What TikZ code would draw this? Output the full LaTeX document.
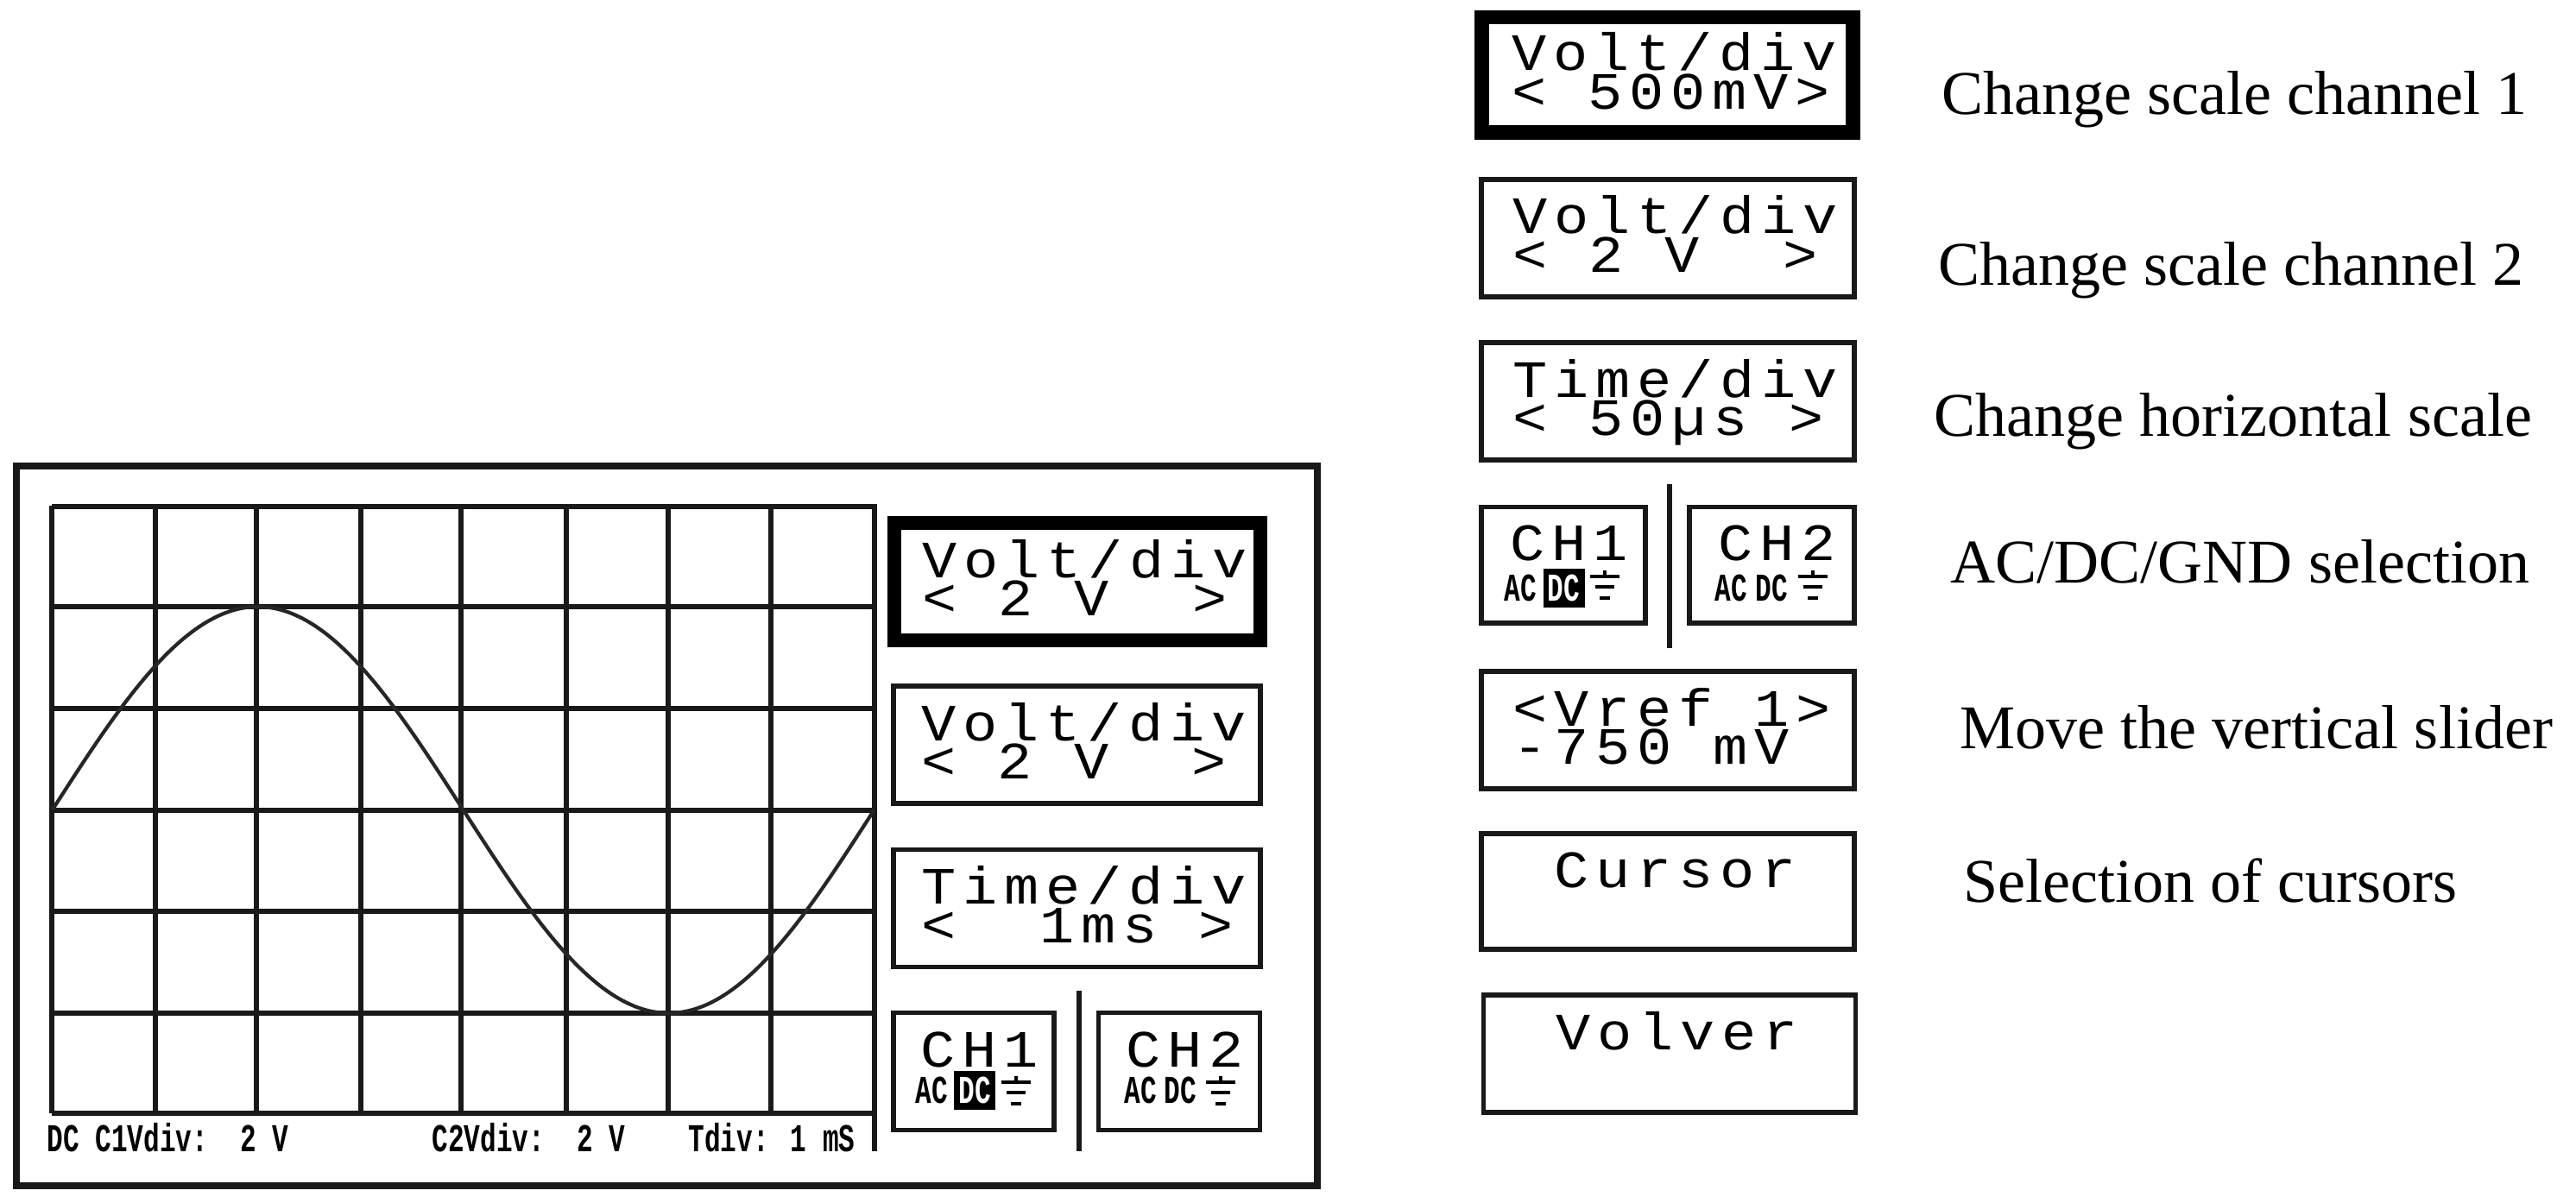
\documentclass[tikz,border=0pt]{standalone}
\usepackage{fontspec}
\setmainfont{Liberation Serif}
\newfontfamily\lcdfont[LetterSpace=13,FakeStretch=1.1]{Liberation Mono}
\newfontfamily\lcdsmall[FakeStretch=0.68]{Liberation Mono}
\newcommand{\lcdgap}{\hspace*{0.482cm}}
\usetikzlibrary{positioning}
\tikzset{
	panelline/.style={line width=1.5pt, color=black!90},
	softkey/.style={draw=black!90, rectangle, line width=1.5pt, minimum height=1.36cm, inner sep=0pt,
	text width=3.6cm, text height=0.5cm, text depth=0.6cm, align=left, font=\lcdfont\fontsize{17.3}{12.8}\selectfont},
	softkeyon/.style={softkey, draw=black, line width=4.8pt},
	chkey/.style={softkey, text width=1.24cm},
	lcdsmalltext/.style={inner sep=0pt, anchor=west, font=\lcdsmall\bfseries\fontsize{13}{13}\selectfont},
	dcmark/.style={fill=black, text=white, inner sep=0pt, minimum width=0.48cm, minimum height=0.45cm,
	font=\lcdsmall\bfseries\fontsize{13}{13}\selectfont},
	helptext/.style={anchor=west, inner sep=0pt, font=\fontsize{20.5}{24}\selectfont},
	gndsym/.pic={
		\draw[line width=0.9pt] (-0.17,0) -- (0.17,0);
		\draw[line width=0.9pt] (-0.11,-0.12) -- (0.11,-0.12);
		\draw[line width=0.9pt] (-0.06,-0.25) -- (0.06,-0.25);
		\draw[line width=0.9pt] (0,0) -- (0,0.07);
	}
}
\begin{document}
\begin{tikzpicture}
		\useasboundingbox (0,0) rectangle (29.84,13.93);
		
		%Oscilloscope screen
		\node (Screen) at (7.725,4.36) [draw=black!90, rectangle, line width=2.3pt, minimum height=8.345cm,
		minimum width=15.07cm]{};
		
		%Grid of the screen
		\draw[panelline] (0.60,8.07) -- (0.60,1.03);
		\draw[panelline] (1.80,8.07) -- (1.80,1.03);
		\draw[panelline] (2.97,8.07) -- (2.97,1.03);
		\draw[panelline] (4.18,8.07) -- (4.18,1.03);
		\draw[panelline] (5.34,8.07) -- (5.34,1.03);
		\draw[panelline] (6.56,8.07) -- (6.56,1.03);
		\draw[panelline, line width=1.9pt] (7.74,8.07) -- (7.74,1.03);
		\draw[panelline] (8.93,8.07) -- (8.93,1.03);
		\draw[panelline] (10.13,8.09) -- (10.13,0.59);
		\draw[panelline] (0.60,8.06) -- (10.13,8.06);
		\draw[panelline] (0.60,6.90) -- (10.13,6.90);
		\draw[panelline] (0.60,5.72) -- (10.13,5.72);
		\draw[panelline] (0.60,4.54) -- (10.13,4.54);
		\draw[panelline] (0.60,3.37) -- (10.13,3.37);
		\draw[panelline] (0.60,2.19) -- (10.13,2.19);
		\draw[panelline, line width=1.9pt] (0.60,1.03) -- (10.13,1.03);
		
		%Signal on the screen
		\draw[line width=1.2pt, color=black!85] plot[domain=0.606:10.126, samples=70, smooth]
		(\x,{4.545+2.355*sin(37.815*(\x-0.606))});
		
		%Writing under the grid
		\node (Status1) at (0.54,0.75) [lcdsmalltext]{DC C1Vdiv:~~2 V};
		\node (Status2) at (5.00,0.75) [lcdsmalltext]{C2Vdiv:~~2 V};
		\node (Status3) at (7.97,0.75) [lcdsmalltext]{Tdiv: 1 mS};
		
		%Keys beside the screen
		\node (Volt Left1) at (12.48,7.19) [softkeyon, minimum width=4.24cm]{Volt/div\\<\lcdgap2\lcdgap V\lcdgap\lcdgap>};
		\node (Volt Left2) at (12.475,5.30) [softkey, minimum width=4.25cm]{Volt/div\\<\lcdgap2\lcdgap V\lcdgap\lcdgap>};
		\node (Time Left) at (12.475,3.405) [softkey, minimum width=4.25cm]{Time/div\\<\lcdgap\lcdgap1ms\lcdgap>};
		\node (Ch1 Left) at (11.28,1.515) [chkey, minimum width=1.86cm]{CH1\\\lcdgap};
		\node (Ch2 Left) at (13.66,1.515) [chkey, minimum width=1.875cm]{CH2\\\lcdgap};
		\draw[panelline, line width=1.9pt] (12.50,2.45) -- (12.50,0.59);
		
		%Writing inside the channel keys beside the screen
		\node (Ac Left1) at (10.60,1.30) [lcdsmalltext]{AC};
		\node (Dc Left1) at (11.29,1.30) [dcmark]{DC};
		\pic at (11.77,1.39) {gndsym};
		\node (Ac Left2) at (13.02,1.30) [lcdsmalltext]{AC};
		\node (Dc Left2) at (13.48,1.30) [lcdsmalltext]{DC};
		\pic at (14.14,1.39) {gndsym};
		
		%Column of keys
		\node (Volt Right1) at (19.315,13.0625) [softkeyon, minimum width=4.30cm, minimum height=1.335cm]{Volt/div\\<\lcdgap500mV>};
		\node (Volt Right2) at (19.32,11.17) [softkey, minimum width=4.32cm]{Volt/div\\<\lcdgap2\lcdgap V\lcdgap\lcdgap>};
		\node (Time Right) at (19.32,9.28) [softkey, minimum width=4.32cm]{Time/div\\<\lcdgap50µs\lcdgap>};
		\node (Ch1 Right) at (18.11,7.3825) [chkey, minimum width=1.90cm, minimum height=1.345cm]{CH1\\\lcdgap};
		\node (Ch2 Right) at (20.525,7.3825) [chkey, minimum width=1.91cm, minimum height=1.345cm]{CH2\\\lcdgap};
		\draw[panelline, line width=1.9pt] (19.34,8.32) -- (19.34,6.42);
		\node (Vref) at (19.32,5.47) [softkey, minimum width=4.32cm]{<Vref\lcdgap1>\\-750\lcdgap mV};
		\node (Cursor) at (19.32,3.60) [softkey, minimum width=4.32cm, minimum height=1.34cm]{\lcdgap Cursor\\\lcdgap};
		\node (Volver) at (19.34,1.72) [softkey, minimum width=4.31cm]{\lcdgap Volver\\\lcdgap};
		
		%Writing inside the channel keys of the column
		\node (Ac Right1) at (17.42,7.12) [lcdsmalltext]{AC};
		\node (Dc Right1) at (18.115,7.12) [dcmark]{DC};
		\pic at (18.59,7.25) {gndsym};
		\node (Ac Right2) at (19.86,7.12) [lcdsmalltext]{AC};
		\node (Dc Right2) at (20.33,7.12) [lcdsmalltext]{DC};
		\pic at (21.00,7.25) {gndsym};
		
		%Meaning of the keys
		\node (Help1) at (22.49,12.78) [helptext]{Change scale channel 1};
		\node (Help2) at (22.45,10.80) [helptext]{Change scale channel 2};
		\node (Help3) at (22.40,9.05) [helptext]{Change horizontal scale};
		\node (Help4) at (22.59,7.42) [helptext]{AC/DC/GND selection};
		\node (Help5) at (22.70,5.50) [helptext]{Move the vertical slider};
		\node (Help6) at (22.74,3.73) [helptext]{Selection of cursors};
		
		\end{tikzpicture}
\end{document}
